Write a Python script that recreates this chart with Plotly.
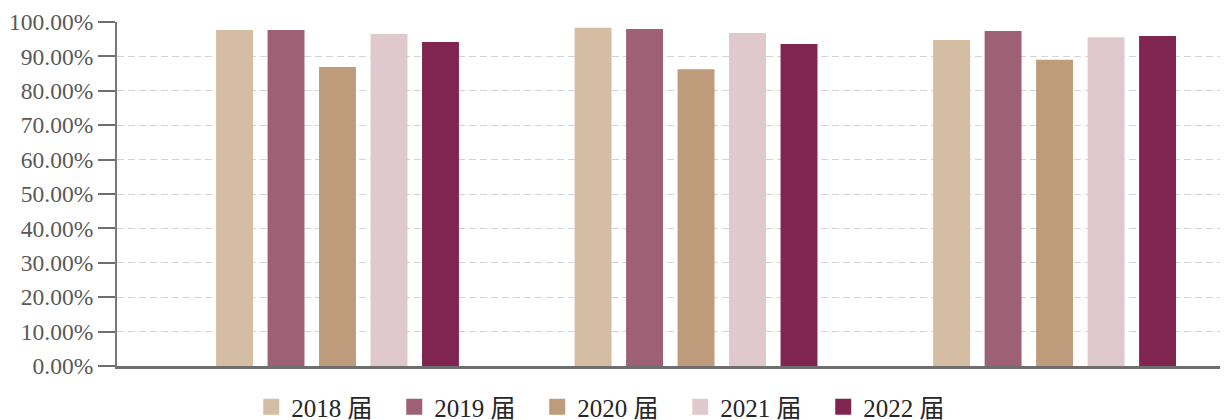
import plotly.graph_objects as go

categories = ["组一", "组二", "组三"]
series_names = ["2018 届", "2019 届", "2020 届", "2021 届", "2022 届"]
values_2018 = [0.977, 0.983, 0.948]
values_2019 = [0.977, 0.980, 0.974]
values_2020 = [0.869, 0.863, 0.890]
values_2021 = [0.965, 0.968, 0.956]
values_2022 = [0.942, 0.936, 0.959]
series_values = [values_2018, values_2019, values_2020, values_2021, values_2022]
colors = ["#D5BDA4", "#9D6074", "#BE9C7B", "#DFC9CF", "#7F2550"]
y_ticks = [i / 10 for i in range(11)]

FONT = "Liberation Serif, Times New Roman, Noto Sans CJK SC, serif"

fig = go.Figure()
for name, vals, c in zip(series_names, series_values, colors):
    fig.add_trace(go.Bar(x=categories, y=vals, name=name, showlegend=False,
                         marker=dict(color=c, line=dict(width=0))))
# legend entries with larger square swatches
for name, c in zip(series_names, colors):
    fig.add_trace(go.Scatter(x=[None], y=[None], mode="markers", name=name,
                             marker=dict(symbol="square", size=16, color=c)))

fig.update_layout(
    width=1228, height=420,
    margin=dict(l=109, r=0, t=14, b=62, autoexpand=False),
    paper_bgcolor="white", plot_bgcolor="white",
    barmode="group", bargap=0.282, bargroupgap=0.283,
    font=dict(family=FONT, size=23, color="#595959"),
    showlegend=True,
    legend=dict(orientation="h", xref="container", x=0.4892, xanchor="center",
                yref="container", y=0.05, yanchor="middle",
                font=dict(family=FONT, size=25, color="#262626"),
                itemwidth=30, traceorder="normal",
                entrywidth=98, entrywidthmode="pixels"),
)
fig.update_xaxes(
    type="category", range=[-0.615, 2.506], showticklabels=False, showgrid=False,
    showline=True, linecolor="#6e6e6e", linewidth=3, ticks="", zeroline=False,
    automargin=False,
)
fig.update_yaxes(
    range=[0, 1], tickvals=y_ticks, tickformat=".2%",
    showgrid=True, gridcolor="#d4d4d4", gridwidth=1, griddash="7px,4px",
    showline=True, linecolor="#7a7a7a", linewidth=2,
    ticks="outside", ticklen=17, tickwidth=2, tickcolor="#6e6e6e",
    tickfont=dict(family=FONT, size=23.5, color="#595959"), zeroline=False,
    automargin=False,
)
fig.write_html("out.html")
